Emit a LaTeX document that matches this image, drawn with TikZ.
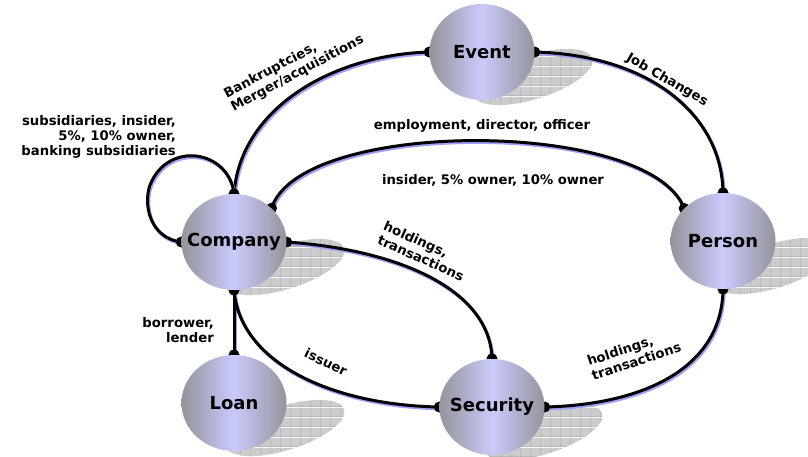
\documentclass[tikz,border=0pt]{standalone}
\usepackage{fontspec}
\setmainfont{DejaVu Sans}
\usetikzlibrary{shapes.geometric,patterns.meta}
\pgfdeclarelayer{back}
\pgfsetlayers{back,main}
\definecolor{ndgray}{RGB}{148,148,156}
\definecolor{ndlav}{RGB}{202,202,252}
\definecolor{edgeblue}{RGB}{160,160,245}
\tikzdeclarepattern{
  name=shgrid,
  type=colored,
  bounding box={(0pt,0pt) and (10pt,10pt)},
  tile size={(10pt,10pt)},
  code={
    \fill[black!20] (0pt,0pt) rectangle (10pt,10pt);
    \draw[black!40, line width=0.7pt] (0pt,0pt) -- (10pt,0pt) (0pt,0pt) -- (0pt,10pt);
  }
}
\begin{document}
\begin{tikzpicture}[x=1pt,y=-1pt,
  ent/.style={ellipse, minimum width=105pt, minimum height=96pt, inner sep=0pt,
    left color=ndgray, right color=ndgray, middle color=ndlav,
    font=\bfseries\fontsize{18}{20}\selectfont},
  lab/.style={font=\bfseries\fontsize{13.2}{15}\selectfont, inner sep=0pt},
  conn/.style={line width=3pt, draw=black,
    preaction={draw=edgeblue, line width=3pt, transform canvas={shift={(1.2pt,-1.8pt)}}}},
  endball/.style={fill=black},
  shadowblob/.style={pattern=shgrid}
]
\useasboundingbox (0,0) rectangle (808,456);
\clip (0,0) rectangle (808,456);

% entities
\node[ent] (event) at (482,52) {\makebox[0pt]{Event}};
\node[ent] (company) at (234,242) {\makebox[0pt]{Company}};
\node[ent] (person) at (723,241) {\makebox[0pt]{Person}};
\node[ent] (loan) at (234,403) {\makebox[0pt]{Loan}};
\node[ent] (security) at (492,407) {\makebox[0pt]{Security}};

\coordinate (loopmid) at (150,185);

\begin{pgfonlayer}{back}
  \clip (0,0) rectangle (808,456);
  \fill[white] (0,0) rectangle (808,456);
  % cast shadows
  \fill[shadowblob, rotate around={17.5:(533,77)}] (533,77) ellipse [x radius=62, y radius=22];
  \fill[shadowblob, rotate around={17.5:(285,267)}] (285,267) ellipse [x radius=62, y radius=22];
  \fill[shadowblob, rotate around={17.5:(774,266)}] (774,266) ellipse [x radius=62, y radius=22];
  \fill[shadowblob, rotate around={17.5:(285,428)}] (285,428) ellipse [x radius=62, y radius=22];
  \fill[shadowblob, rotate around={17.5:(543,432)}] (543,432) ellipse [x radius=62, y radius=22];

  % connectors
  \draw[conn] (event.west) .. controls (330,55) and (240,110) .. (company.north);
  \draw[conn] (company.north) .. controls (229,150) and (168,140) .. (loopmid)
              .. controls (143,205) and (150,238) .. (company.west);
  \draw[conn] (company.42) .. controls (300,118) and (650,118) .. (person.140);
  \draw[conn] (event.east) .. controls (650,55) and (722,115) .. (person.north);
  \draw[conn] (company.east) .. controls (400,250) and (490,290) .. (security.north);
  \draw[conn] (company.south) -- (loan.north);
  \draw[conn] (company.south) .. controls (240,362) and (330,405) .. (security.west);
  \draw[conn] (security.east) .. controls (640,405) and (722,370) .. (person.south);

  % end balls
  \foreach \p in {event.west,event.east,company.north,company.west,company.42,
                  company.east,company.south,person.140,person.north,person.south,
                  loan.north,security.north,security.west,security.east}
    \fill[endball] (\p) circle (5.5pt);
\end{pgfonlayer}

% labels
\node[lab, align=left, rotate=28] (lbank) at (294,67) {Bankruptcies,\\Merger/acquisitions};
\node[lab, rotate=-30] (ljob) at (667,80) {Job Changes};
\node[lab, align=right, anchor=east] (lsub) at (176,137) {subsidiaries, insider,\\5\%, 10\% owner,\\banking subsidiaries};
\node[lab] (lemp) at (482,126) {employment, director, officer};
\node[lab] (lins) at (493,180) {insider, 5\% owner, 10\% owner};
\node[lab, align=left, rotate=-24] (lhold1) at (424,251) {holdings,\\transactions};
\node[lab, rotate=-25] (liss) at (326,362) {issuer};
\node[lab, align=left, rotate=18] (lhold2) at (634,354) {holdings,\\transactions};
\node[lab, align=right, anchor=east] (lbor) at (214,330) {borrower,\\lender};
\end{tikzpicture}
\end{document}
